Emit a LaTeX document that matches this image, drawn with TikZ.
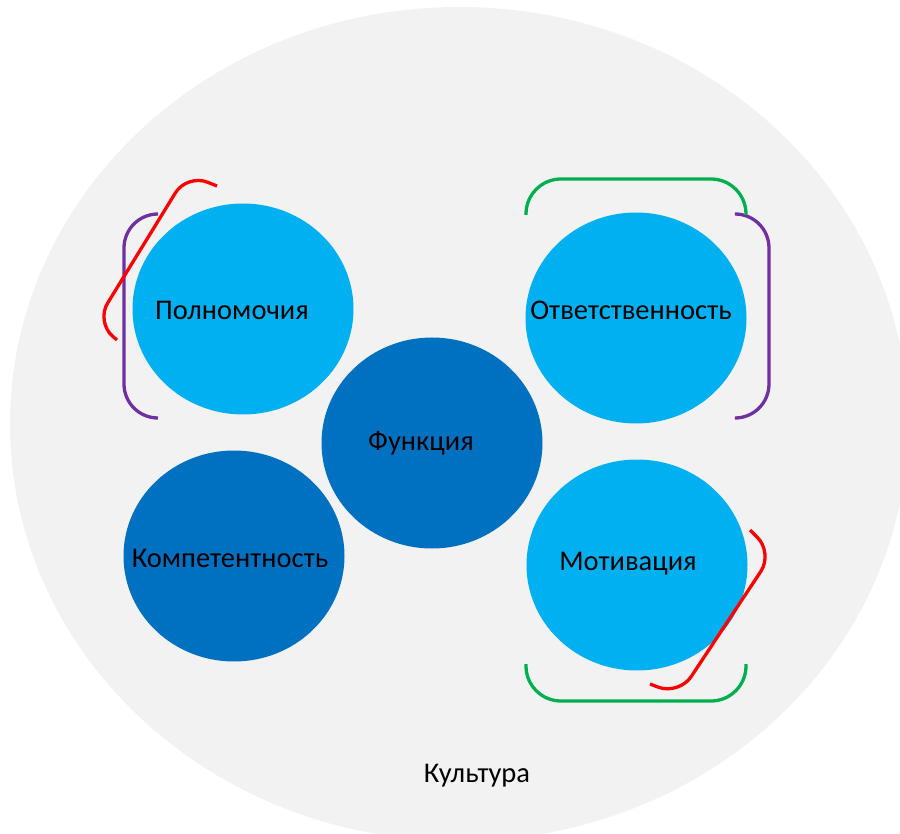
\documentclass[tikz,border=0pt]{standalone}
\usepackage{fontspec}
\setmainfont{Carlito}
\usetikzlibrary{shapes.geometric}
\definecolor{bggray}{HTML}{F2F2F2}
\definecolor{lblue}{HTML}{00B0F0}
\definecolor{dblue}{HTML}{0070C0}
\definecolor{bgreen}{HTML}{00B050}
\definecolor{bpurple}{HTML}{7030A0}
\definecolor{bred}{HTML}{FF0000}
\begin{document}
\begin{tikzpicture}[x=1pt,y=-1pt,
  disc/.style={ellipse, inner sep=0pt, minimum width=221pt, minimum height=211pt},
  light/.style={disc, fill=lblue},
  dark/.style={disc, fill=dblue},
  lbl/.style={font=\fontsize{28.5}{32}\selectfont, text=black, inner sep=0pt},
  brk/.style={line width=3.3pt},
]
\useasboundingbox (0,0) rectangle (900,834);
\clip (0,0) rectangle (900,834);
\node[ellipse, fill=bggray, inner sep=0pt, minimum width=898pt, minimum height=834pt] (culture) at (459,424) {};
\node[lbl] (culturet) at (477,776) {Культура};

\node[light] (pol) at (243,309) {};
\node[light] (otv) at (636,318) {};
\node[dark] (fun) at (432,443) {};
\node[dark] (kom) at (234,556) {};
\node[light] (mot) at (637,565) {};

\node[lbl] (polt) at (232,310) {Полномочия};
\node[lbl] (otvt) at (631,310) {Ответственность};
\node[lbl] (funt) at (421,443) {Функция};
\node[lbl] (komt) at (230,558) {Компетентность};
\node[lbl] (mott) at (628,564) {Мотивация};

\draw[brk, bpurple, rounded corners=34pt] (158,214) -- (124,214) -- (124,418) -- (158,418);
\draw[brk, bpurple, rounded corners=34pt] (736,214) -- (769,214) -- (769,418) -- (736,418);
\draw[brk, bgreen, rounded corners=35pt] (526,215) -- (526,179) -- (746,179) -- (746,215);
\draw[brk, bgreen, rounded corners=35pt] (526,664) -- (526,701) -- (746,701) -- (746,664);
\draw[brk, bred, rounded corners=22pt] (217,186) -- (187,174) -- (96,322) -- (117,340);
\draw[brk, bred, rounded corners=22pt] (750,530) -- (773,553) -- (679,695) -- (650,684);
\end{tikzpicture}
\end{document}
